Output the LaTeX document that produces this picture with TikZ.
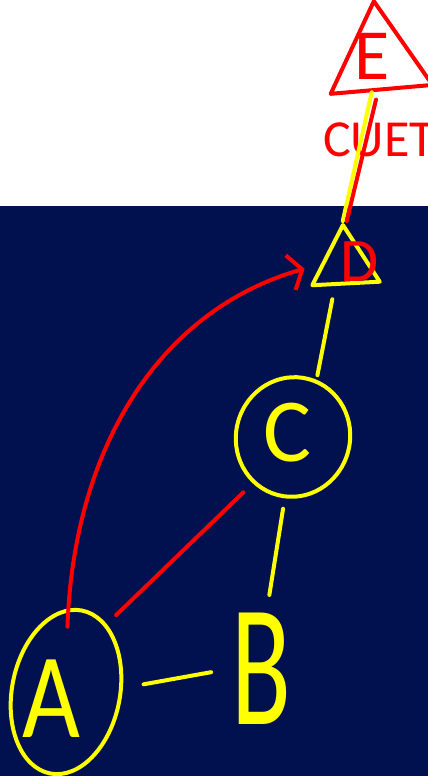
\documentclass[tikz,border=0pt]{standalone}
\usepackage{fontspec}
\setmainfont{Carlito}
\usetikzlibrary{shapes.geometric,arrows.meta}
\definecolor{boardnavy}{RGB}{1,17,80}
\definecolor{penred}{RGB}{255,0,0}
\definecolor{penyellow}{RGB}{255,255,0}
\newcommand{\penfont}[1]{\fontsize{#1}{#1}\selectfont}
\begin{document}
\begin{tikzpicture}[
	x=1pt, y=1pt,
	pen/.style={line width=4pt, line cap=round, line join=round},
	yellowpen/.style={pen, draw=penyellow},
	redpen/.style={pen, draw=penred},
	ring/.style={ellipse, yellowpen, inner sep=0pt},
	tri/.style={regular polygon, regular polygon sides=3, inner sep=0pt},
	letter/.style={inner sep=2pt, text=#1}
	]
	\useasboundingbox (0,0) rectangle (428,776);
	\clip (0,0) rectangle (428,776);
	\fill[white] (0,570) rectangle (428,776);
	\fill[boardnavy] (0,0) rectangle (428,570);

	\node[ring, minimum width=108pt, minimum height=166pt, rotate=-11] (A) at (66,84) {};
	\node[letter=penyellow, font=\penfont{100}, yscale=1.21] (A-text) at (51,77) {A};
	\node[letter=penyellow, font=\penfont{110}, yscale=1.58] (B) at (261,107) {B};
	\node[ring, minimum width=114pt, minimum height=120pt, rotate=-15] (C) at (293,339) {};
	\node[letter=penyellow, font=\penfont{90}] (C-text) at (287,343) {C};
	\node[tri, yellowpen, minimum size=78pt, shape border rotate=3] (D) at (345,512) {};
	\node[letter=penred, font=\penfont{62}] (D-text) at (360,514) {D};
	\node[tri, redpen, minimum size=118pt, shape border rotate=5] (E) at (379,716) {};
	\node[letter=penred, font=\penfont{72}] (E-text) at (372,720) {E};
	\node[anchor=west, text=penred, font=\penfont{52}, inner sep=0pt] (cuet) at (323,636) {CUET};

	\draw[yellowpen] (E) -- (D.corner 1);
	\draw[redpen] ([xshift=-3pt,yshift=-8pt]E.south) -- ([xshift=4pt]D.corner 1);
	\draw[yellowpen, shorten <=14pt, shorten >=2pt] ([xshift=-10pt]D.south) -- ([xshift=8pt]C.north);
	\draw[yellowpen, shorten <=12pt, shorten >=15pt] ([xshift=8pt]C.south) -- ([xshift=6pt]B.north);
	\draw[yellowpen, shorten <=21pt, shorten >=18pt] (A.15) -- (B.west);
	\draw[redpen, shorten <=13pt, shorten >=13pt] (A.70) -- (C.244);
	\draw[redpen, shorten >=17pt, -{Straight Barb[length=12pt, width=36pt]}] ([yshift=-18pt]A.100) to[out=88, in=196] (D.west);
\end{tikzpicture}
\end{document}
